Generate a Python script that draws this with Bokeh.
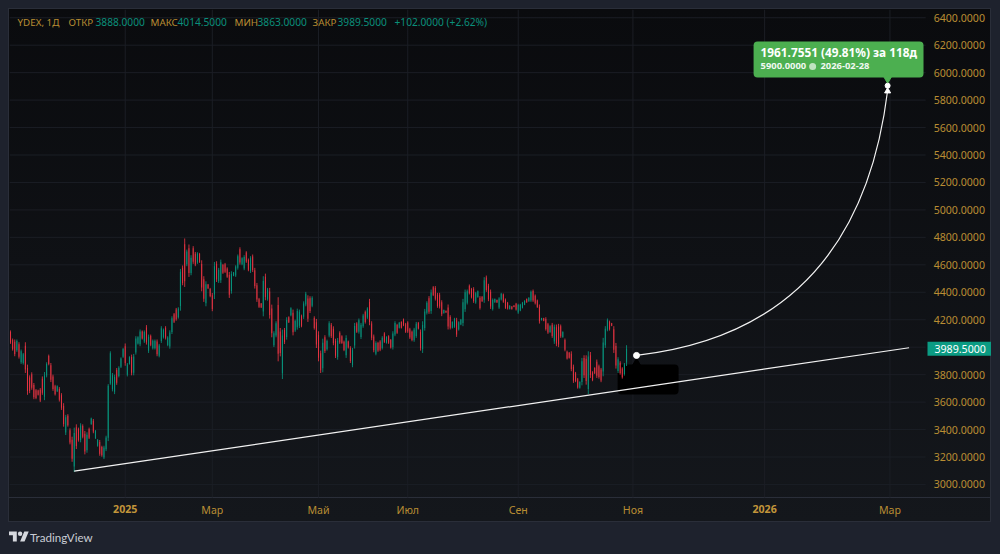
from bokeh.embed import file_html
from bokeh.layouts import column
from bokeh.models import BoxAnnotation, Div, FixedTicker, Label, LinearAxis, NumeralTickFormatter, Range1d
from bokeh.plotting import figure
from bokeh.resources import INLINE

# daily YDEX bars
highs = [
    4122, 4063, 4056, 4056, 4036, 3983, 3958, 4036, 3873, 3795, 3817, 3739, 3695, 3690, 3702, 3787, 3819, 3890, 3946, 3885,
    3800, 3726, 3722, 3709, 3665, 3592, 3507, 3512, 3409, 3348, 3414, 3438, 3414, 3446, 3438, 3390, 3380, 3414, 3487, 3477,
    3397, 3331, 3324, 3282, 3282, 3355, 3731, 3970, 3812, 3800, 3848, 3861, 3926, 3995, 4027, 3885, 3934, 3946, 3951, 4080,
    4080, 4129, 4122, 4122, 4161, 4092, 4092, 4056, 4056, 4056, 4024, 4153, 4136, 4153, 4080, 4123, 4225, 4249, 4286, 4291,
    4570, 4595, 4792, 4711, 4748, 4670, 4736, 4694, 4692, 4687, 4633, 4517, 4480, 4461, 4432, 4395, 4621, 4626, 4578, 4638,
    4607, 4614, 4582, 4548, 4553, 4548, 4597, 4675, 4728, 4655, 4670, 4699, 4646, 4663, 4675, 4578, 4468, 4359, 4322, 4517,
    4536, 4432, 4432, 4310, 4116, 4189, 4364, 4140, 4128, 4140, 4218, 4225, 4291, 4274, 4201, 4281, 4274, 4237, 4334, 4403,
    4378, 4371, 4371, 4225, 4206, 4116, 3975, 4062, 4087, 4055, 4189, 4176, 4152, 4062, 4067, 4116, 4087, 4048, 4087, 4048,
    4007, 3995, 4177, 4182, 4209, 4177, 4243, 4267, 4291, 4352, 4189, 4092, 4043, 4039, 4051, 4080, 4109, 4080, 4087, 4060,
    4116, 4189, 4170, 4184, 4189, 4209, 4177, 4189, 4141, 4121, 4141, 4184, 4184, 4129, 4189, 4279, 4335, 4372, 4420, 4445,
    4445, 4396, 4396, 4342, 4274, 4267, 4311, 4233, 4189, 4214, 4214, 4189, 4206, 4352, 4420, 4420, 4457, 4432, 4437, 4403,
    4413, 4372, 4372, 4510, 4522, 4462, 4420, 4355, 4355, 4347, 4364, 4396, 4391, 4355, 4330, 4306, 4299, 4306, 4323, 4316,
    4316, 4330, 4342, 4355, 4364, 4413, 4420, 4384, 4347, 4311, 4214, 4214, 4218, 4177, 4160, 4177, 4165, 4165, 4170, 4165,
    4116, 4063, 3975, 3965, 3970, 3873, 3820, 3776, 3752, 3922, 3941, 3941, 3970, 3965, 3825, 3854, 3910, 3873, 3849, 4068,
    4153, 4209, 4194, 4177, 4153, 4031, 3927, 3898, 3854, 3885, 4014.5,
]
lows = [
    4024, 3975, 3934, 3966, 3917, 3878, 3873, 3812, 3653, 3665, 3690, 3621, 3621, 3648, 3600, 3653, 3614, 3780, 3868, 3746,
    3682, 3648, 3673, 3604, 3543, 3421, 3360, 3421, 3292, 3165, 3090, 3258, 3312, 3307, 3336, 3219, 3231, 3331, 3434, 3373,
    3331, 3275, 3209, 3202, 3185, 3243, 3316, 3726, 3678, 3658, 3726, 3780, 3848, 3922, 3865, 3787, 3873, 3795, 3795, 3946,
    4019, 4007, 4056, 4031, 4019, 3958, 4007, 3983, 3983, 3934, 3926, 4031, 4063, 4056, 4007, 3989, 4096, 4176, 4193, 4208,
    4266, 4451, 4439, 4590, 4512, 4524, 4607, 4590, 4607, 4614, 4407, 4330, 4298, 4424, 4364, 4262, 4351, 4475, 4468, 4468,
    4534, 4541, 4505, 4359, 4390, 4517, 4512, 4565, 4602, 4597, 4561, 4614, 4553, 4541, 4548, 4427, 4330, 4286, 4286, 4225,
    4342, 4339, 4208, 4072, 4001, 4072, 3897, 3933, 3768, 4023, 4055, 4176, 4225, 4086, 4111, 4128, 4140, 4145, 4206, 4298,
    4184, 4249, 4291, 4128, 3994, 3897, 3812, 3817, 3958, 3975, 4072, 4067, 4014, 3921, 3909, 4024, 4024, 3971, 3922, 3990,
    3885, 3854, 3990, 4104, 4099, 4060, 4141, 4172, 4206, 4160, 4051, 3963, 3941, 3966, 3971, 3983, 4031, 4026, 4024, 3990,
    3983, 4080, 4097, 4136, 4136, 4153, 4104, 4104, 4060, 4043, 4039, 4068, 4129, 3975, 3958, 4121, 4238, 4243, 4243, 4372,
    4340, 4287, 4282, 4226, 4245, 4250, 4129, 4129, 4136, 4141, 4075, 4121, 4160, 4153, 4257, 4311, 4384, 4355, 4323, 4316,
    4360, 4274, 4330, 4323, 4403, 4335, 4279, 4267, 4323, 4323, 4279, 4340, 4323, 4279, 4274, 4274, 4274, 4291, 4267, 4243,
    4262, 4282, 4306, 4323, 4330, 4330, 4330, 4311, 4286, 4172, 4194, 4189, 4121, 4097, 4104, 4068, 4024, 4007, 4000, 4068,
    4068, 3970, 3910, 3917, 3825, 3740, 3745, 3698, 3698, 3722, 3776, 3727, 3659, 3776, 3752, 3805, 3776, 3771, 3745, 3788,
    3995, 4116, 4121, 4153, 3958, 3844, 3812, 3800, 3771, 3793, 3863,
]
opens = [
    4110, 4052, 4040, 3978, 4022, 3890, 3884, 4010, 3848, 3780, 3802, 3725, 3686, 3685, 3690, 3771, 3639, 3793, 3936, 3868,
    3786, 3716, 3679, 3696, 3650, 3571, 3378, 3501, 3395, 3326, 3130, 3416, 3402, 3324, 3426, 3369, 3249, 3404, 3440, 3465,
    3339, 3282, 3310, 3272, 3197, 3256, 3340, 3735, 3694, 3675, 3833, 3790, 3857, 3931, 4007, 3799, 3880, 3928, 3814, 3962,
    4026, 4022, 4114, 4042, 4144, 3974, 4082, 3992, 3992, 4041, 3938, 4046, 4072, 4141, 4016, 4005, 4111, 4240, 4275, 4218,
    4300, 4578, 4750, 4604, 4720, 4541, 4720, 4681, 4617, 4678, 4606, 4495, 4320, 4456, 4424, 4379, 4383, 4608, 4481, 4488,
    4598, 4605, 4573, 4525, 4410, 4521, 4522, 4578, 4713, 4604, 4574, 4689, 4635, 4556, 4660, 4560, 4451, 4350, 4318, 4260,
    4513, 4350, 4405, 4281, 4015, 4086, 4308, 4115, 3811, 4126, 4075, 4219, 4233, 4251, 4122, 4146, 4156, 4226, 4221, 4311,
    4355, 4356, 4301, 4213, 4181, 4090, 3955, 3846, 4072, 3985, 4086, 4163, 4135, 4045, 3928, 4105, 4080, 4039, 3942, 4041,
    3992, 3871, 4012, 4173, 4112, 4074, 4153, 4256, 4216, 4329, 4172, 4077, 3953, 4030, 4041, 3995, 4100, 4032, 4079, 4052,
    3999, 4093, 4161, 4142, 4183, 4202, 4168, 4179, 4131, 4112, 4051, 4082, 4177, 4110, 3986, 4140, 4250, 4356, 4264, 4436,
    4432, 4383, 4382, 4328, 4248, 4265, 4289, 4220, 4142, 4150, 4197, 4129, 4166, 4177, 4277, 4324, 4448, 4423, 4423, 4326,
    4366, 4360, 4367, 4345, 4508, 4447, 4403, 4278, 4327, 4344, 4289, 4347, 4383, 4346, 4323, 4278, 4296, 4304, 4316, 4252,
    4268, 4288, 4310, 4351, 4334, 4340, 4409, 4375, 4340, 4294, 4196, 4211, 4206, 4167, 4111, 4164, 4041, 4146, 4150, 4153,
    4074, 4052, 3967, 3959, 3953, 3857, 3811, 3767, 3704, 3746, 3921, 3915, 3696, 3942, 3816, 3848, 3894, 3861, 3837, 3822,
    4014, 4127, 4185, 4174, 4130, 4009, 3826, 3886, 3844, 3804, 3888,
]
closes = [
    4035, 3985, 3950, 4045, 3930, 3970, 3948, 3838, 3680, 3680, 3705, 3635, 3630, 3653, 3612, 3669, 3794, 3877, 3877, 3763,
    3696, 3658, 3716, 3617, 3558, 3441, 3489, 3432, 3306, 3187, 3375, 3280, 3324, 3429, 3348, 3240, 3362, 3341, 3481, 3385,
    3389, 3324, 3223, 3212, 3270, 3342, 3720, 3955, 3796, 3783, 3741, 3851, 3917, 3986, 3885, 3873, 3927, 3813, 3932, 4064,
    4073, 4114, 4064, 4111, 4036, 4076, 4017, 4047, 4047, 3949, 4012, 4138, 4127, 4068, 4071, 4107, 4210, 4185, 4204, 4281,
    4550, 4468, 4481, 4697, 4540, 4652, 4622, 4602, 4682, 4623, 4434, 4352, 4458, 4429, 4372, 4278, 4589, 4493, 4565, 4618,
    4543, 4550, 4514, 4382, 4533, 4544, 4587, 4662, 4617, 4648, 4657, 4624, 4564, 4648, 4563, 4445, 4347, 4295, 4290, 4482,
    4365, 4421, 4235, 4101, 4102, 4175, 3953, 3958, 4085, 4037, 4198, 4182, 4283, 4109, 4190, 4263, 4258, 4156, 4319, 4390,
    4207, 4264, 4361, 4140, 4019, 3923, 3832, 4033, 3973, 4045, 4175, 4080, 4031, 3938, 4048, 4035, 4031, 3980, 4067, 3997,
    3900, 3978, 4155, 4113, 4196, 4163, 4231, 4183, 4281, 4183, 4068, 3978, 4031, 3975, 3981, 4068, 4040, 4074, 4032, 3998,
    4100, 4176, 4106, 4178, 4142, 4160, 4113, 4114, 4070, 4052, 4129, 4170, 4136, 3994, 4161, 4260, 4323, 4259, 4399, 4381,
    4353, 4300, 4296, 4240, 4271, 4252, 4151, 4142, 4183, 4205, 4092, 4181, 4200, 4328, 4400, 4407, 4393, 4364, 4337, 4393,
    4407, 4286, 4335, 4488, 4417, 4350, 4296, 4344, 4351, 4326, 4354, 4389, 4331, 4288, 4281, 4302, 4277, 4293, 4274, 4307,
    4310, 4324, 4338, 4327, 4360, 4403, 4341, 4320, 4293, 4189, 4212, 4192, 4133, 4107, 4153, 4081, 4148, 4026, 4020, 4080,
    4110, 3981, 3918, 3923, 3842, 3756, 3754, 3707, 3746, 3898, 3796, 3753, 3933, 3799, 3761, 3811, 3792, 3783, 3757, 4034,
    4134, 4198, 4130, 4156, 3981, 3866, 3913, 3812, 3781, 3874, 3989.5,
]

price_ticks = [3000, 3200, 3400, 3600, 3800, 4000, 4200, 4400, 4600, 4800, 5000, 5200, 5400, 5600, 5800, 6000, 6200, 6400]
month_ticks = [95, 145, 187, 239, 293, 414]
month_labels = ["Мар", "Май", "Июл", "Сен", "Ноя", "Мар"]
year_ticks = [54, 355]
year_labels = ["2025", "2026"]

trend_x = [30, 423]
trend_y = [3097, 3996]
curve_x = [294.7, 412.9]
curve_y = [3940, 5870]
curve_ctrl = [399, 4124]
last_price = 3989.5

UP = "#089981"
DOWN = "#F23645"
AMBER = "#B98D33"
TEAL = "#0A8F7B"
GRID = "#1b1e25"
FONT = "Noto Sans"
LEGEND_SIZE = "10.2px"
SCALE_X = 430.8   # where the price scale starts, bar index units
BOTTOM = 2905     # where the time scale starts, price units
TOP = 6460

x = list(range(len(highs)))
up = [i for i in x if closes[i] >= opens[i]]
dn = [i for i in x if closes[i] < opens[i]]

# frame runs under both scales too, annotations get clipped to it otherwise
p = figure(
    frame_width=982, frame_height=513, min_border_left=1, min_border_top=1, min_border_right=0, min_border_bottom=0,
    output_backend="svg", toolbar_location=None, y_axis_location="right",
    x_range=Range1d(-0.47, 461.8), y_range=Range1d(2722.9, TOP),
    background_fill_color=None, border_fill_color=None, outline_line_color=None,
    styles={
        "background": "linear-gradient(#2a2e39,#2a2e39) 0 489px/100% 1px no-repeat, linear-gradient(#0a0b0e,#14171c)",
        "outline": "1px solid #2a2e39", "outline-offset": "-1px",
    },
)

year_axis = LinearAxis(fixed_location=BOTTOM)
p.add_layout(year_axis, "below")
month_axis = [a for a in p.xaxis if a is not year_axis][0]
month_axis.fixed_location = BOTTOM

for ax in (month_axis, year_axis, p.yaxis[0]):
    ax.major_label_text_color = AMBER
    ax.major_label_text_font = FONT
    ax.major_label_text_font_size = "10.6px"
    ax.major_tick_line_color = None
    ax.major_tick_in = 0
    ax.major_tick_out = 0
    ax.minor_tick_line_color = None
    ax.minor_tick_out = 0
    ax.axis_line_color = None

month_axis.ticker = FixedTicker(ticks=month_ticks)
month_axis.major_label_overrides = dict(zip(month_ticks, month_labels))
month_axis.major_label_standoff = 5
year_axis.ticker = FixedTicker(ticks=year_ticks)
year_axis.major_label_overrides = dict(zip(year_ticks, year_labels))
year_axis.major_label_text_font_style = "bold"
year_axis.major_label_text_color = "#C2953A"
year_axis.major_label_standoff = 7

p.yaxis.ticker = FixedTicker(ticks=price_ticks)
p.yaxis.formatter = NumeralTickFormatter(format="0.0000")
p.yaxis.fixed_location = SCALE_X
p.yaxis.major_label_standoff = 8

# grid stops at the scales
p.xgrid.visible = False
p.ygrid.visible = False
time_ticks = sorted(month_ticks + year_ticks)
p.segment(time_ticks, [BOTTOM] * len(time_ticks), time_ticks, [TOP] * len(time_ticks), color=GRID, line_width=1, level="underlay")
p.segment([-0.47] * len(price_ticks), price_ticks, [SCALE_X] * len(price_ticks), price_ticks, color=GRID, line_width=1, level="underlay")

# black patch hiding the original tooltip, sits under the candles
p.add_layout(BoxAnnotation(left=285.8, right=314.5, top=3874, bottom=3656, fill_color="#000000", fill_alpha=1,
                           line_alpha=0, border_radius=4, level="underlay"))
p.scatter([294.7], [3885], marker="triangle", size=8, color="#000000")

p.segment([x[i] for i in up], [highs[i] for i in up], [x[i] for i in up], [lows[i] for i in up], color=UP, line_width=0.8)
p.segment([x[i] for i in dn], [highs[i] for i in dn], [x[i] for i in dn], [lows[i] for i in dn], color=DOWN, line_width=0.8)
p.vbar([x[i] for i in up], 0.5, [opens[i] for i in up], [closes[i] for i in up], color=UP, alpha=0.8, line_width=0)
p.vbar([x[i] for i in dn], 0.5, [closes[i] for i in dn], [opens[i] for i in dn], color=DOWN, alpha=0.7, line_width=0)

p.line(trend_x, trend_y, color="#F2F2F2", line_width=1.2)
p.quadratic(x0=[curve_x[0]], y0=[curve_y[0]], x1=[curve_x[1]], y1=[curve_y[1]],
            cx=[curve_ctrl[0]], cy=[curve_ctrl[1]], color="#F2F2F2", line_width=1.2)
p.scatter([curve_x[0]], [curve_y[0]], size=6, color="#FFFFFF")

# target callout
p.add_layout(BoxAnnotation(left=349.8, right=429.8, top=6227, bottom=5965, fill_color="#4CAF50", fill_alpha=1,
                           line_alpha=0, border_radius=4))
p.scatter([412.9], [5955], marker="inverted_triangle", size=8, color="#4CAF50")
p.scatter([412.9], [5905], size=5, color="#FFFFFF")
p.scatter([412.9], [5865], marker="triangle", size=6, color="#FFFFFF")
p.scatter([377.6], [6045], size=7, color="#BFE3C1", line_width=0, level="overlay")
p.add_layout(Label(x=353.1, y=6147, text="1961.7551 (49.81%) за 118д", text_color="#FFFFFF", text_font=FONT,
                   text_font_size="11.8px", text_font_style="bold", text_baseline="middle"))
p.add_layout(Label(x=353.1, y=6045, text="5900.0000", text_color="#F0F8F0", text_font=FONT,
                   text_font_size="9.4px", text_font_style="bold", text_baseline="middle"))
p.add_layout(Label(x=381.3, y=6045, text="2026-02-28", text_color="#F0F8F0", text_font=FONT,
                   text_font_size="9.4px", text_font_style="bold", text_baseline="middle"))

# last price tag on the scale
p.add_layout(Label(x=918, x_units="screen", y=last_price, text="3989.5000", text_color="#FFFFFF", text_font=FONT,
                   text_font_size="10.6px", text_baseline="middle", background_fill_color="#0B9B83", padding=(7, 3)))

# OHLC legend line
legend_bits = [
    (8, "YDEX, 1Д", AMBER), (59, "ОТКР", AMBER), (86, "3888.0000", TEAL), (141, "МАКС", AMBER), (168, "4014.5000", TEAL),
    (225, "МИН", AMBER), (248, "3863.0000", TEAL), (303, "ЗАКР", AMBER), (328, "3989.5000", TEAL),
    (385, "+102.0000 (+2.62%)", TEAL),
]
for lx, txt, col in legend_bits:
    p.add_layout(Label(x=lx, x_units="screen", y=6366, text=txt, text_color=col, text_font=FONT,
                       text_font_size="9.8px" if col == AMBER else LEGEND_SIZE, text_baseline="middle"))

footer = Div(
    text='<div style="display:flex;align-items:center;gap:1px;padding:7px 0 0 1px;color:#C9CCD4;'
         'font:11.6px Lato">'
         '<svg width="20" height="16" viewBox="0 0 36 28" fill="#D6D8DE"><path d="M14 22H7V11H0V4h14v18z'
         'M28 22h-8l7.5-18h8L28 22z"/><circle cx="20" cy="8" r="4"/></svg>TradingView</div>',
    width=983, height=24, margin=(0, 0, 0, 0),
)

page = "{% block preamble %}<style>html,body{background:#1E222D}body{padding:8px!important}</style>{% endblock %}"
open("out.html", "w").write(file_html(column(p, footer, spacing=0), INLINE, template=page))
